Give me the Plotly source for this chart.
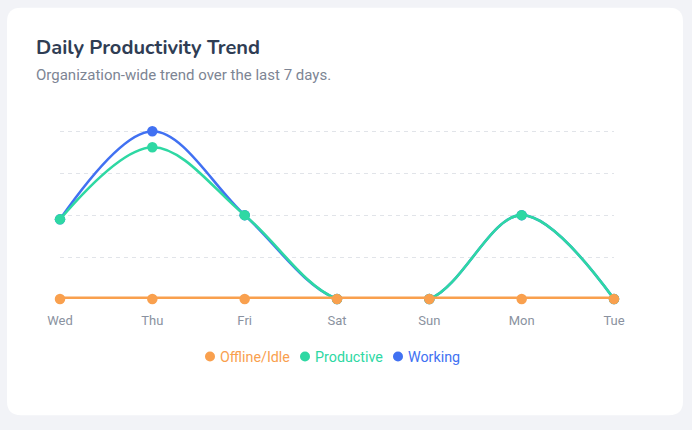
import plotly.graph_objects as go

days = ["Wed", "Thu", "Fri", "Sat", "Sun", "Mon", "Tue"]
offline_idle = [0, 0, 0, 0, 0, 0, 0]
productive = [1.9, 3.62, 2.0, 0, 0, 2.0, 0]
working = [1.9, 4.0, 2.0, 0, 0, 2.0, 0]
series_names = ["Offline/Idle", "Productive", "Working"]

c_off = "#f9a04e"
c_prod = "#2ed8a3"
c_work = "#4171f2"
colors = [c_off, c_prod, c_work]

W, H = 692, 430
Y0PX, Y4PX = 299.3, 131.0
UNIT = (Y0PX - Y4PX) / 4
PAD = 0.15
ML, MR = 60, 78
MT = Y4PX - PAD * UNIT
MB = H - Y0PX
PW, PH = W - ML - MR, H - MT - MB

def px(x):
    return (x - ML) / PW

def py(y):
    return (H - MB - y) / PH

fig = go.Figure()
for name, vals, col, w in [("Working", working, c_work, 2.6),
                           ("Productive", productive, c_prod, 2.6),
                           ("Offline/Idle", offline_idle, c_off, 5)]:
    fig.add_trace(go.Scatter(
        x=days, y=vals, mode="lines+markers",
        name=name, showlegend=False,
        line=dict(color=col, width=w, shape="spline", smoothing=1.0),
        marker=dict(color=col, size=10.5),
        cliponaxis=False,
        hoverinfo="skip",
    ))

# card rounded rect in paper coords
x0, x1, y0, y1, r = 7, 683, 7, 416, 14
rx, ry = r / PW, r / PH
X0, X1, Y0, Y1 = px(x0), px(x1), py(y0), py(y1)
path = (f"M {X0+rx},{Y0} L {X1-rx},{Y0} Q {X1},{Y0} {X1},{Y0-ry} "
        f"L {X1},{Y1+ry} Q {X1},{Y1} {X1-rx},{Y1} "
        f"L {X0+rx},{Y1} Q {X0},{Y1} {X0},{Y1+ry} "
        f"L {X0},{Y0-ry} Q {X0},{Y0} {X0+rx},{Y0} Z")
shapes = [dict(type="path", path=path, xref="paper", yref="paper",
               fillcolor="white", line=dict(width=0), layer="below")]

annotations = [
    dict(text="<b>Daily Productivity Trend</b>", x=px(34), y=py(47),
         xref="paper", yref="paper", xanchor="left", yanchor="middle",
         showarrow=False, font=dict(family="Nunito, Noto Sans, sans-serif", size=20, color="#2f3d54")),
    dict(text="Organization-wide trend over the last 7 days.", x=px(34), y=py(75),
         xref="paper", yref="paper", xanchor="left", yanchor="middle",
         showarrow=False, font=dict(family="Roboto", size=15, color="#7d8594")),
]

# legend (circle + colored label)
legend_x = [210, 305, 398]
legend_y = 358
for lx, name, col in zip(legend_x, series_names, colors):
    shapes.append(dict(type="circle", xref="paper", yref="paper",
                       xsizemode="pixel", ysizemode="pixel",
                       xanchor=px(lx), yanchor=py(legend_y - 1),
                       x0=-5, x1=5, y0=-5, y1=5,
                       fillcolor=col, line=dict(width=0)))
    annotations.append(dict(text=name, x=px(lx + 8), y=py(legend_y),
                            xref="paper", yref="paper", xanchor="left", yanchor="middle",
                            showarrow=False,
                            font=dict(family="Roboto", size=14.3, color=col)))

fig.update_layout(
    width=W, height=H,
    margin=dict(l=ML, r=MR, t=MT, b=MB),
    paper_bgcolor="#f2f3f7",
    plot_bgcolor="rgba(0,0,0,0)",
    shapes=shapes,
    showlegend=False,
    annotations=annotations,
    xaxis=dict(range=[0, 6], showgrid=False, zeroline=False, showline=False,
               tickfont=dict(family="Roboto", size=13, color="#8a92a0"),
               ticklabelstandoff=12, fixedrange=True),
    yaxis=dict(range=[0, 4 + PAD], tickvals=[1, 2, 3, 4], showgrid=True,
               gridcolor="#e1e4e9", griddash="4px,4px",
               gridwidth=1, showticklabels=False, zeroline=False,
               showline=False, fixedrange=True),
)

fig.write_html("out.html", config={"displayModeBar": False})
